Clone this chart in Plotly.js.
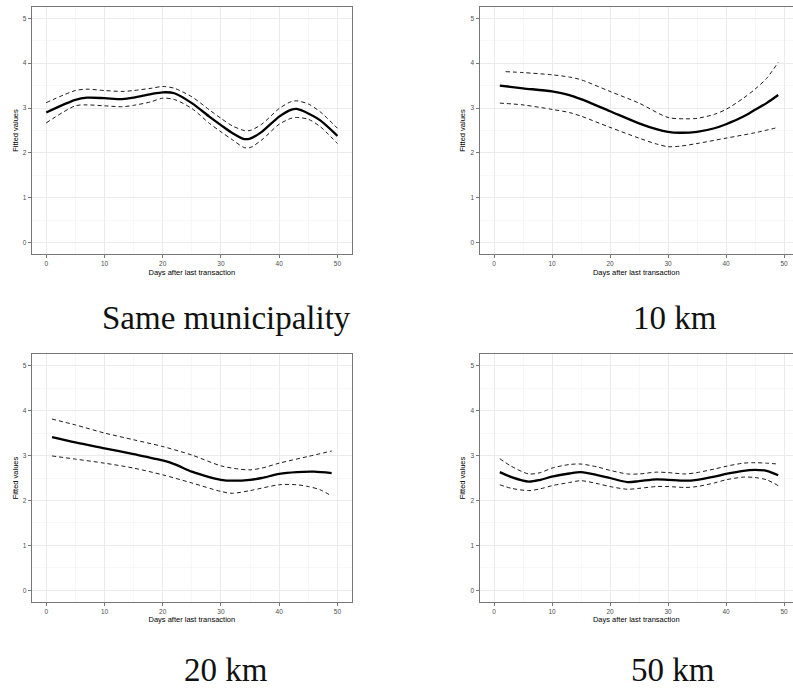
<!DOCTYPE html>
<html>
<head>
<meta charset="utf-8">
<script src="https://cdn.plot.ly/plotly-3.0.1.min.js"></script>
<style>html,body{margin:0;padding:0;background:#fff;}#chart{width:793px;height:690px;}</style>
</head>
<body>
<div id="chart"></div>
<script>
// ---- Data ----
const captions = ["Same municipality", "10 km", "20 km", "50 km"];
const xTitle = "Days after last transaction";
const yTitle = "Fitted values";

// Panel 1: Same municipality
const days1 = [0, 5, 7, 10, 13, 15, 18, 20, 22, 25, 28, 30, 32, 34, 35, 37, 40, 42, 43, 45, 47, 50];
const fit1  = [2.90, 3.18, 3.23, 3.22, 3.20, 3.23, 3.31, 3.35, 3.33, 3.11, 2.81, 2.62, 2.44, 2.31, 2.32, 2.47, 2.81, 2.96, 2.98, 2.88, 2.73, 2.38];
const up1   = [3.12, 3.39, 3.42, 3.39, 3.37, 3.39, 3.44, 3.48, 3.44, 3.25, 2.96, 2.77, 2.60, 2.50, 2.50, 2.64, 2.99, 3.14, 3.16, 3.09, 2.92, 2.55];
const lo1   = [2.67, 3.05, 3.07, 3.05, 3.03, 3.06, 3.14, 3.22, 3.19, 2.99, 2.66, 2.47, 2.29, 2.12, 2.12, 2.29, 2.64, 2.77, 2.79, 2.75, 2.59, 2.21];

// Panel 2: 10 km
const days2   = [1, 5, 10, 13, 15, 20, 25, 28, 30, 32, 35, 38, 40, 43, 45, 47, 49];
const fit2    = [3.50, 3.44, 3.37, 3.29, 3.20, 2.93, 2.66, 2.53, 2.47, 2.45, 2.47, 2.55, 2.64, 2.81, 2.96, 3.11, 3.29];
const daysUp2 = [2, 5, 10, 13, 15, 20, 25, 30, 33, 35, 38, 40, 43, 45, 47, 49];
const up2     = [3.81, 3.79, 3.74, 3.69, 3.63, 3.37, 3.11, 2.79, 2.76, 2.77, 2.86, 2.97, 3.22, 3.42, 3.66, 4.02];
const daysLo2 = [1, 5, 10, 13, 15, 20, 25, 28, 30, 32, 35, 40, 45, 49];
const lo2     = [3.11, 3.07, 2.97, 2.90, 2.82, 2.57, 2.33, 2.20, 2.14, 2.15, 2.21, 2.33, 2.45, 2.57];

// Panel 3: 20 km
const days3 = [1, 5, 10, 15, 20, 22, 25, 28, 30, 32, 35, 37, 40, 43, 46, 49];
const fit3  = [3.41, 3.29, 3.16, 3.03, 2.89, 2.81, 2.64, 2.52, 2.46, 2.44, 2.46, 2.50, 2.59, 2.63, 2.64, 2.61];
const daysUp3 = [1, 5, 10, 15, 20, 25, 30, 33, 35, 37, 40, 45, 49];
const up3     = [3.81, 3.68, 3.50, 3.35, 3.20, 3.01, 2.77, 2.70, 2.68, 2.72, 2.83, 2.98, 3.10];
const daysLo3 = [1, 5, 10, 15, 20, 25, 30, 32, 35, 40, 43, 45, 47, 49];
const lo3     = [2.99, 2.92, 2.83, 2.72, 2.57, 2.39, 2.20, 2.16, 2.22, 2.35, 2.35, 2.31, 2.24, 2.10];

// Panel 4: 50 km
const days4 = [1, 3, 6, 8, 10, 13, 15, 18, 20, 23, 25, 28, 30, 33, 35, 38, 40, 43, 45, 47, 49];
const fit4  = [2.63, 2.52, 2.42, 2.46, 2.53, 2.60, 2.63, 2.56, 2.50, 2.41, 2.43, 2.47, 2.46, 2.44, 2.46, 2.53, 2.59, 2.66, 2.68, 2.66, 2.56];
const up4   = [2.93, 2.76, 2.59, 2.62, 2.72, 2.80, 2.81, 2.74, 2.67, 2.59, 2.59, 2.63, 2.62, 2.59, 2.62, 2.70, 2.76, 2.83, 2.84, 2.83, 2.81];
const lo4   = [2.35, 2.27, 2.22, 2.26, 2.33, 2.40, 2.44, 2.37, 2.31, 2.25, 2.27, 2.31, 2.31, 2.29, 2.31, 2.39, 2.46, 2.52, 2.51, 2.46, 2.33];

// ---- Traces ----
function fitTrace(x, y, ax) {
  return {x: x, y: y, xaxis: 'x' + ax, yaxis: 'y' + ax, type: 'scatter', mode: 'lines',
    line: {color: '#000', width: 2.3, shape: 'spline', smoothing: 0.8}, hoverinfo: 'skip', showlegend: false};
}
function ciTrace(x, y, ax) {
  return {x: x, y: y, xaxis: 'x' + ax, yaxis: 'y' + ax, type: 'scatter', mode: 'lines',
    line: {color: '#000', width: 0.9, dash: '4px,3px', shape: 'spline', smoothing: 0.8}, hoverinfo: 'skip', showlegend: false};
}
const traces = [
  ciTrace(days1, up1, ''), ciTrace(days1, lo1, ''), fitTrace(days1, fit1, ''),
  ciTrace(daysUp2, up2, '2'), ciTrace(daysLo2, lo2, '2'), fitTrace(days2, fit2, '2'),
  ciTrace(daysUp3, up3, '3'), ciTrace(daysLo3, lo3, '3'), fitTrace(days3, fit3, '3'),
  ciTrace(days4, up4, '4'), ciTrace(days4, lo4, '4'), fitTrace(days4, fit4, '4')
];

// ---- Layout ----
const W = 793, H = 690;
const tickFont = {family: 'Liberation Sans, Arial, sans-serif', size: 6.5, color: '#4D4D4D'};
const titleFont = {family: 'Liberation Sans, Arial, sans-serif', size: 7.5, color: '#000'};

function xAxis(domain, anchor, range, mirror) {
  return {domain: domain, anchor: anchor, range: range, dtick: 10, tick0: 0,
    showgrid: true, gridcolor: '#EBEBEB', gridwidth: 1, zeroline: false,
    minor: {dtick: 5, tick0: 0, showgrid: true, gridcolor: '#F4F4F4', gridwidth: 0.7},
    showline: true, linecolor: '#777', linewidth: 1, mirror: mirror,
    ticks: 'outside', ticklen: 3, tickwidth: 0.8, tickcolor: '#555',
    tickfont: tickFont, title: {text: xTitle, font: titleFont, standoff: 3}, fixedrange: true};
}
function yAxis(domain, anchor, mirror) {
  return {domain: domain, anchor: anchor, range: [-0.25, 5.25], dtick: 1, tick0: 0,
    showgrid: true, gridcolor: '#EBEBEB', gridwidth: 1, zeroline: false,
    minor: {dtick: 0.5, tick0: 0, showgrid: true, gridcolor: '#F4F4F4', gridwidth: 0.7},
    showline: true, linecolor: '#777', linewidth: 1, mirror: mirror,
    ticks: 'outside', ticklen: 3, tickwidth: 0.8, tickcolor: '#555',
    tickfont: tickFont, title: {text: yTitle, font: titleFont, standoff: 3}, fixedrange: true};
}

const leftX = [31.7 / W, 352 / W];
const rightX = [479.5 / W, 1];
const topY = [1 - 254 / H, 1 - 7 / H];
const botY = [1 - 601.7 / H, 1 - 354.3 / H];
const rightRange = [-2.5, (793 - 494) / 5.8];

const capFont = {family: 'Liberation Serif, Times New Roman, serif', size: 33, color: '#111'};
function caption(text, cx, cy) {
  return {text: text, xref: 'paper', yref: 'paper', x: cx / W, y: 1 - cy / H,
    xanchor: 'center', yanchor: 'middle', showarrow: false, font: capFont};
}

const layout = {
  width: W, height: H,
  margin: {l: 0, r: 0, t: 0, b: 0},
  paper_bgcolor: '#fff', plot_bgcolor: '#fff',
  showlegend: false,
  xaxis: xAxis(leftX, 'y', [-2.5, 52.5], true),
  yaxis: yAxis(topY, 'x', true),
  xaxis2: xAxis(rightX, 'y2', rightRange, true),
  yaxis2: yAxis(topY, 'x2', false),
  xaxis3: xAxis(leftX, 'y3', [-2.5, 52.5], true),
  yaxis3: yAxis(botY, 'x3', true),
  xaxis4: xAxis(rightX, 'y4', rightRange, true),
  yaxis4: yAxis(botY, 'x4', false),
  annotations: [
    caption(captions[0], 226, 318),
    caption(captions[1], 675, 318),
    caption(captions[2], 226, 670),
    caption(captions[3], 673, 670)
  ]
};

Plotly.newPlot('chart', traces, layout, {staticPlot: true, displayModeBar: false});
</script>
</body>
</html>
